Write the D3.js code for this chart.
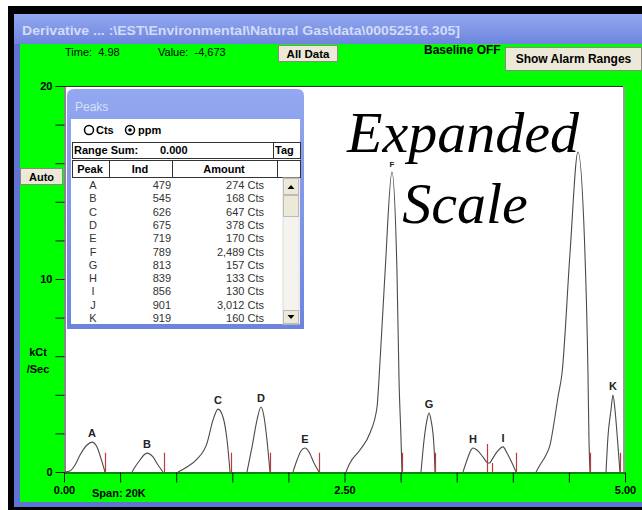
<!DOCTYPE html>
<html>
<head>
<meta charset="utf-8">
<script src="https://cdn.jsdelivr.net/npm/d3@7"></script>
<style>
  body { margin: 0; background: #fff; }
  svg { display: block; font-family: "Liberation Sans", Arial, sans-serif; }
</style>
</head>
<body>
<div id="chart"></div>
<script>
// peak table
var peakNames = ['A', 'B', 'C', 'D', 'E', 'F', 'G', 'H', 'I', 'J', 'K'];
var peakInd = [479, 545, 626, 675, 719, 789, 813, 839, 856, 901, 919];
var peakAmount = [274, 168, 647, 378, 170, 2489, 157, 133, 130, 3012, 160];

// axis ticks
var xTicks = [0, 0.5, 1, 1.5, 2, 2.5, 3, 3.5, 4, 4.5, 5];
var xLabels = [0, 2.5, 5];
var yTicks = [0, 2, 4, 6, 8, 10, 12, 14, 16, 18, 20];
var yLabels = [0, 10, 20];

// trace: [time, kCt/Sec]
var traceA = [[0.009, 0], [0.053, 0.05], [0.098, 0.36], [0.143, 0.88], [0.205, 1.40], [0.250, 1.55], [0.294, 1.30], [0.339, 0.52], [0.365, 0]];
var traceB = [[0.606, 0], [0.633, 0.26], [0.677, 0.62], [0.722, 0.93], [0.740, 0.98], [0.793, 0.78], [0.838, 0.36], [0.882, 0]];
var traceC = [[1.016, 0], [1.096, 0.26], [1.185, 0.67], [1.275, 1.50], [1.328, 2.69], [1.373, 3.26], [1.417, 2.85], [1.453, 1.66], [1.480, 0]];
var traceD = [[1.631, 0], [1.676, 1.30], [1.720, 2.69], [1.756, 3.37], [1.783, 2.85], [1.809, 1.66], [1.836, 0]];
var traceE = [[2.041, 0], [2.077, 0.62], [2.112, 1.09], [2.148, 1.24], [2.184, 1.04], [2.228, 0.47], [2.273, 0]];
var traceF = [[2.513, 0], [2.549, 0.47], [2.638, 1.14], [2.727, 2.02], [2.790, 3.37], [2.807, 4.77], [2.861, 10.31], [2.923, 15.54], [2.968, 10.31], [2.986, 4.77], [3.004, 1.66], [3.012, 0]];
var traceG = [[3.182, 0], [3.209, 1.66], [3.235, 2.69], [3.253, 3.06], [3.271, 2.69], [3.298, 1.30], [3.307, 0]];
var traceH = [[3.556, 0], [3.592, 0.62], [3.619, 1.04], [3.645, 1.24], [3.681, 1.14], [3.734, 0.78], [3.779, 0.47], [3.797, 0.47]];
var traceI = [[3.797, 0.47], [3.824, 0.73], [3.859, 1.04], [3.913, 1.30], [3.948, 0.98], [3.993, 0.47], [4.029, 0]];
var traceJ = [[4.207, 0], [4.242, 0.36], [4.296, 0.88], [4.332, 1.40], [4.367, 2.54], [4.403, 3.89], [4.439, 5.13], [4.510, 11.35], [4.581, 16.58], [4.643, 11.35], [4.670, 5.13], [4.679, 1.66], [4.688, 0]];
var traceK = [[4.831, 0], [4.848, 1.81], [4.875, 3.21], [4.893, 3.99], [4.911, 3.21], [4.938, 1.30], [4.955, 0]];
var traces = [traceA, traceB, traceC, traceD, traceE, traceF, traceG, traceH, traceI, traceJ, traceK];
var traceLabels = ['A', 'B', 'C', 'D', 'E', 'F', 'G', 'H', 'I', '', 'K'];

// peak end markers
var markerT = [0.365, 0.891, 1.488, 1.836, 2.273, 3.012, 3.307, 3.770, 3.815, 4.029, 4.688, 4.955];
var markerV = [1, 1, 1, 1, 1, 1, 1, 1.45, 0.47, 1, 1, 1];

var W = 642, H = 510;
var fmtAmt = d3.format(',');

var svg = d3.select('#chart').append('svg')
    .attr('width', W)
    .attr('height', H);

var defs = svg.append('defs');
var tg = defs.append('linearGradient').attr('id', 'titleGrad').attr('x1', 0).attr('y1', 0).attr('x2', 0).attr('y2', 1);
tg.append('stop').attr('offset', '0%').attr('stop-color', '#93a8f0');
tg.append('stop').attr('offset', '100%').attr('stop-color', '#6d84de');

// window frame
svg.append('rect').attr('x', 8).attr('y', 6).attr('width', W - 8).attr('height', H - 6).attr('fill', '#000');
svg.append('rect').attr('x', 14).attr('y', 14).attr('width', W - 14).attr('height', 31).attr('fill', 'url(#titleGrad)');
svg.append('text')
    .attr('x', 22).attr('y', 35)
    .attr('fill', '#d2dcf8')
    .attr('font-size', '13px')
    .attr('font-weight', 'bold')
    .attr('textLength', 438)
    .attr('lengthAdjust', 'spacingAndGlyphs')
    .text('Derivative ... :\\EST\\Environmental\\Natural Gas\\data\\00052516.305]');
svg.append('rect').attr('x', 14).attr('y', 44).attr('width', 6).attr('height', 462).attr('fill', '#6074d4');
svg.append('rect').attr('x', 14).attr('y', 502).attr('width', W - 14).attr('height', 5).attr('fill', '#6074d4');
svg.append('rect').attr('x', 20).attr('y', 44).attr('width', W - 20).attr('height', 458).attr('fill', '#00ff00');

// top controls
var button = function(x0, y0, w, h, label, fs) {
    svg.append('rect')
        .attr('x', x0).attr('y', y0).attr('width', w).attr('height', h)
        .attr('fill', '#ece9d8')
        .attr('stroke', '#8a8a80')
        .attr('stroke-width', 1);
    svg.append('text')
        .attr('x', x0 + w / 2).attr('y', y0 + h / 2 + 4)
        .attr('text-anchor', 'middle')
        .attr('font-size', fs + 'px')
        .attr('font-weight', 'bold')
        .attr('fill', '#000')
        .text(label);
};
svg.append('text').attr('x', 65).attr('y', 56).attr('font-size', '11px').text('Time:  4.98').attr('xml:space', 'preserve');
svg.append('text').attr('x', 158).attr('y', 56).attr('font-size', '11px').text('Value:  -4,673').attr('xml:space', 'preserve');
button(278.5, 45.5, 59, 16, 'All Data', 11.5);
svg.append('text').attr('x', 424).attr('y', 54).attr('font-size', '12px').attr('font-weight', 'bold').text('Baseline OFF');
button(505.5, 47.5, 136, 23, 'Show Alarm Ranges', 12);
button(20.5, 168.5, 42, 16, 'Auto', 11);

svg.append('text').attr('x', 38).attr('y', 356).attr('text-anchor', 'middle').attr('font-size', '11px').attr('font-weight', 'bold').text('kCt');
svg.append('text').attr('x', 38).attr('y', 373).attr('text-anchor', 'middle').attr('font-size', '11px').attr('font-weight', 'bold').text('/Sec');

// plot area
var x = d3.scaleLinear().domain([0, 5]).range([64, 625]);
var y = d3.scaleLinear().domain([0, 20]).range([472, 86]);

svg.append('rect')
    .attr('x', x(0)).attr('y', y(20))
    .attr('width', x(5) - x(0) - 1).attr('height', y(0) - y(20))
    .attr('fill', '#fff');
svg.append('line').attr('x1', x(0)).attr('x2', x(5)).attr('y1', y(20) + 0.5).attr('y2', y(20) + 0.5).attr('stroke', '#333');
svg.append('line').attr('x1', x(5) - 1).attr('x2', x(5) - 1).attr('y1', y(20)).attr('y2', y(0)).attr('stroke', '#999').attr('stroke-width', 2);

var yAxis = svg.append('g')
    .attr('transform', 'translate(' + (x(0) + 0.5) + ',0)')
    .call(d3.axisLeft(y).tickValues(yTicks).tickSize(9).tickSizeOuter(0).tickPadding(3)
        .tickFormat(function(d) { return yLabels.indexOf(d) >= 0 ? d : ''; }));
var xAxis = svg.append('g')
    .attr('transform', 'translate(0,' + (y(0) + 0.5) + ')')
    .call(d3.axisBottom(x).tickValues(xTicks).tickSize(10).tickSizeOuter(0).tickPadding(4)
        .tickFormat(function(d) { return xLabels.indexOf(d) >= 0 ? d3.format('.2f')(d) : ''; }));
[yAxis, xAxis].forEach(function(g) {
    g.selectAll('path, line').attr('stroke', '#111');
    g.selectAll('text')
        .attr('fill', '#000')
        .attr('font-size', '11px')
        .attr('font-weight', 'bold')
        .attr('font-family', '"Liberation Sans", Arial, sans-serif');
});

svg.append('text').attr('x', 92).attr('y', 497).attr('font-size', '11px').attr('font-weight', 'bold').text('Span: 20K');

// trace
var line = d3.line()
    .x(function(d) { return x(d[0]); })
    .y(function(d) { return y(d[1]); })
    .curve(d3.curveMonotoneX);

svg.append('g').selectAll('path').data(traces).enter()
    .append('path')
    .attr('d', line)
    .attr('fill', 'none')
    .attr('stroke', '#4a4a4a')
    .attr('stroke-width', 1.1);

svg.append('g').selectAll('line').data(markerT).enter()
    .append('line')
    .attr('x1', function(d) { return Math.round(x(d)) + 0.5; })
    .attr('x2', function(d) { return Math.round(x(d)) + 0.5; })
    .attr('y1', y(0))
    .attr('y2', function(d, i) { return y(markerV[i]); })
    .attr('stroke', '#c03a3a')
    .attr('stroke-width', 1.2);

svg.append('g').selectAll('text').data(traces).enter()
    .append('text')
    .attr('x', function(d) { return x(d3.greatest(d, function(p) { return p[1]; })[0]); })
    .attr('y', function(d) { return y(d3.max(d, function(p) { return p[1]; })) - 5; })
    .attr('text-anchor', 'middle')
    .attr('font-size', function(d, i) { return traceLabels[i] === 'F' ? '8px' : '11px'; })
    .attr('font-weight', 'bold')
    .attr('fill', '#222')
    .text(function(d, i) { return traceLabels[i]; });

// annotation
svg.append('text')
    .attr('x', 463).attr('y', 152)
    .attr('text-anchor', 'middle')
    .attr('font-family', '"Liberation Serif", "Times New Roman", serif')
    .attr('font-style', 'italic')
    .attr('font-size', '58px')
    .attr('fill', '#000')
    .text('Expanded');
svg.append('text')
    .attr('x', 465).attr('y', 223)
    .attr('text-anchor', 'middle')
    .attr('font-family', '"Liberation Serif", "Times New Roman", serif')
    .attr('font-style', 'italic')
    .attr('font-size', '58px')
    .attr('fill', '#000')
    .text('Scale');

// Peaks window
var px = 67, py = 89, pw = 237, ph = 240;
svg.append('path')
    .attr('d', 'M' + px + ',' + (py + ph) + 'V' + (py + 7) + 'Q' + px + ',' + py + ' ' + (px + 7) + ',' + py +
        'H' + (px + pw - 7) + 'Q' + (px + pw) + ',' + py + ' ' + (px + pw) + ',' + (py + 7) + 'V' + (py + ph) + 'Z')
    .attr('fill', 'url(#titleGrad)');
svg.append('text').attr('x', px + 8).attr('y', py + 22).attr('font-size', '12px').attr('fill', '#d6e0fa').text('Peaks');
svg.append('rect').attr('x', px + 4).attr('y', py + 30).attr('width', pw - 8).attr('height', ph - 35).attr('fill', '#fff');

var panel = svg.append('g').attr('font-size', '11px');
// radio buttons
panel.append('circle').attr('cx', 89).attr('cy', 130).attr('r', 4.5).attr('fill', '#fff').attr('stroke', '#000').attr('stroke-width', 1.5);
panel.append('text').attr('x', 96).attr('y', 134).attr('font-weight', 'bold').text('Cts');
panel.append('circle').attr('cx', 130).attr('cy', 130).attr('r', 4.5).attr('fill', '#fff').attr('stroke', '#000').attr('stroke-width', 1.5);
panel.append('circle').attr('cx', 130).attr('cy', 130).attr('r', 1.8).attr('fill', '#000');
panel.append('text').attr('x', 138).attr('y', 134).attr('font-weight', 'bold').text('ppm');

var box = function(x0, y0, w, h) {
    panel.append('rect').attr('x', x0 + 0.5).attr('y', y0 + 0.5).attr('width', w).attr('height', h)
        .attr('fill', '#fff').attr('stroke', '#333').attr('stroke-width', 1);
};
box(72, 142, 201, 16);
box(273, 142, 27, 16);
panel.append('text').attr('x', 74).attr('y', 154).attr('font-weight', 'bold').text('Range Sum:');
panel.append('text').attr('x', 160).attr('y', 154).attr('font-weight', 'bold').text('0.000');
panel.append('text').attr('x', 275).attr('y', 154).attr('font-weight', 'bold').text('Tag');

box(72, 160, 37, 17);
box(109, 160, 63, 17);
box(172, 160, 105, 17);
box(277, 160, 23, 17);
panel.append('text').attr('x', 90).attr('y', 173).attr('text-anchor', 'middle').attr('font-weight', 'bold').text('Peak');
panel.append('text').attr('x', 140).attr('y', 173).attr('text-anchor', 'middle').attr('font-weight', 'bold').text('Ind');
panel.append('text').attr('x', 224).attr('y', 173).attr('text-anchor', 'middle').attr('font-weight', 'bold').text('Amount');

var rowY = d3.scaleLinear().domain([0, peakNames.length - 1]).range([189, 322]);
var rows = panel.append('g').attr('fill', '#333').selectAll('g').data(peakNames).enter().append('g');
rows.append('text').attr('x', 93).attr('y', function(d, i) { return rowY(i); }).attr('text-anchor', 'middle').text(function(d) { return d; });
rows.append('text').attr('x', 171).attr('y', function(d, i) { return rowY(i); }).attr('text-anchor', 'end').text(function(d, i) { return peakInd[i]; });
rows.append('text').attr('x', 264).attr('y', function(d, i) { return rowY(i); }).attr('text-anchor', 'end').text(function(d, i) { return fmtAmt(peakAmount[i]) + ' Cts'; });

// scrollbar
panel.append('rect').attr('x', 283).attr('y', 178).attr('width', 16).attr('height', 146).attr('fill', '#f4f3ee').attr('stroke', '#ddd');
panel.append('rect').attr('x', 283.5).attr('y', 178.5).attr('width', 15).attr('height', 16).attr('fill', '#ece9d8').attr('stroke', '#bbb');
panel.append('rect').attr('x', 283.5).attr('y', 195.5).attr('width', 15).attr('height', 21).attr('fill', '#ece9d8').attr('stroke', '#bbb');
panel.append('rect').attr('x', 283.5).attr('y', 310.5).attr('width', 15).attr('height', 13).attr('fill', '#ece9d8').attr('stroke', '#bbb');
panel.append('path').attr('d', 'M287.5,189L291,185L294.5,189Z').attr('fill', '#000');
panel.append('path').attr('d', 'M287.5,315L291,319L294.5,315Z').attr('fill', '#000');
</script>
</body>
</html>
